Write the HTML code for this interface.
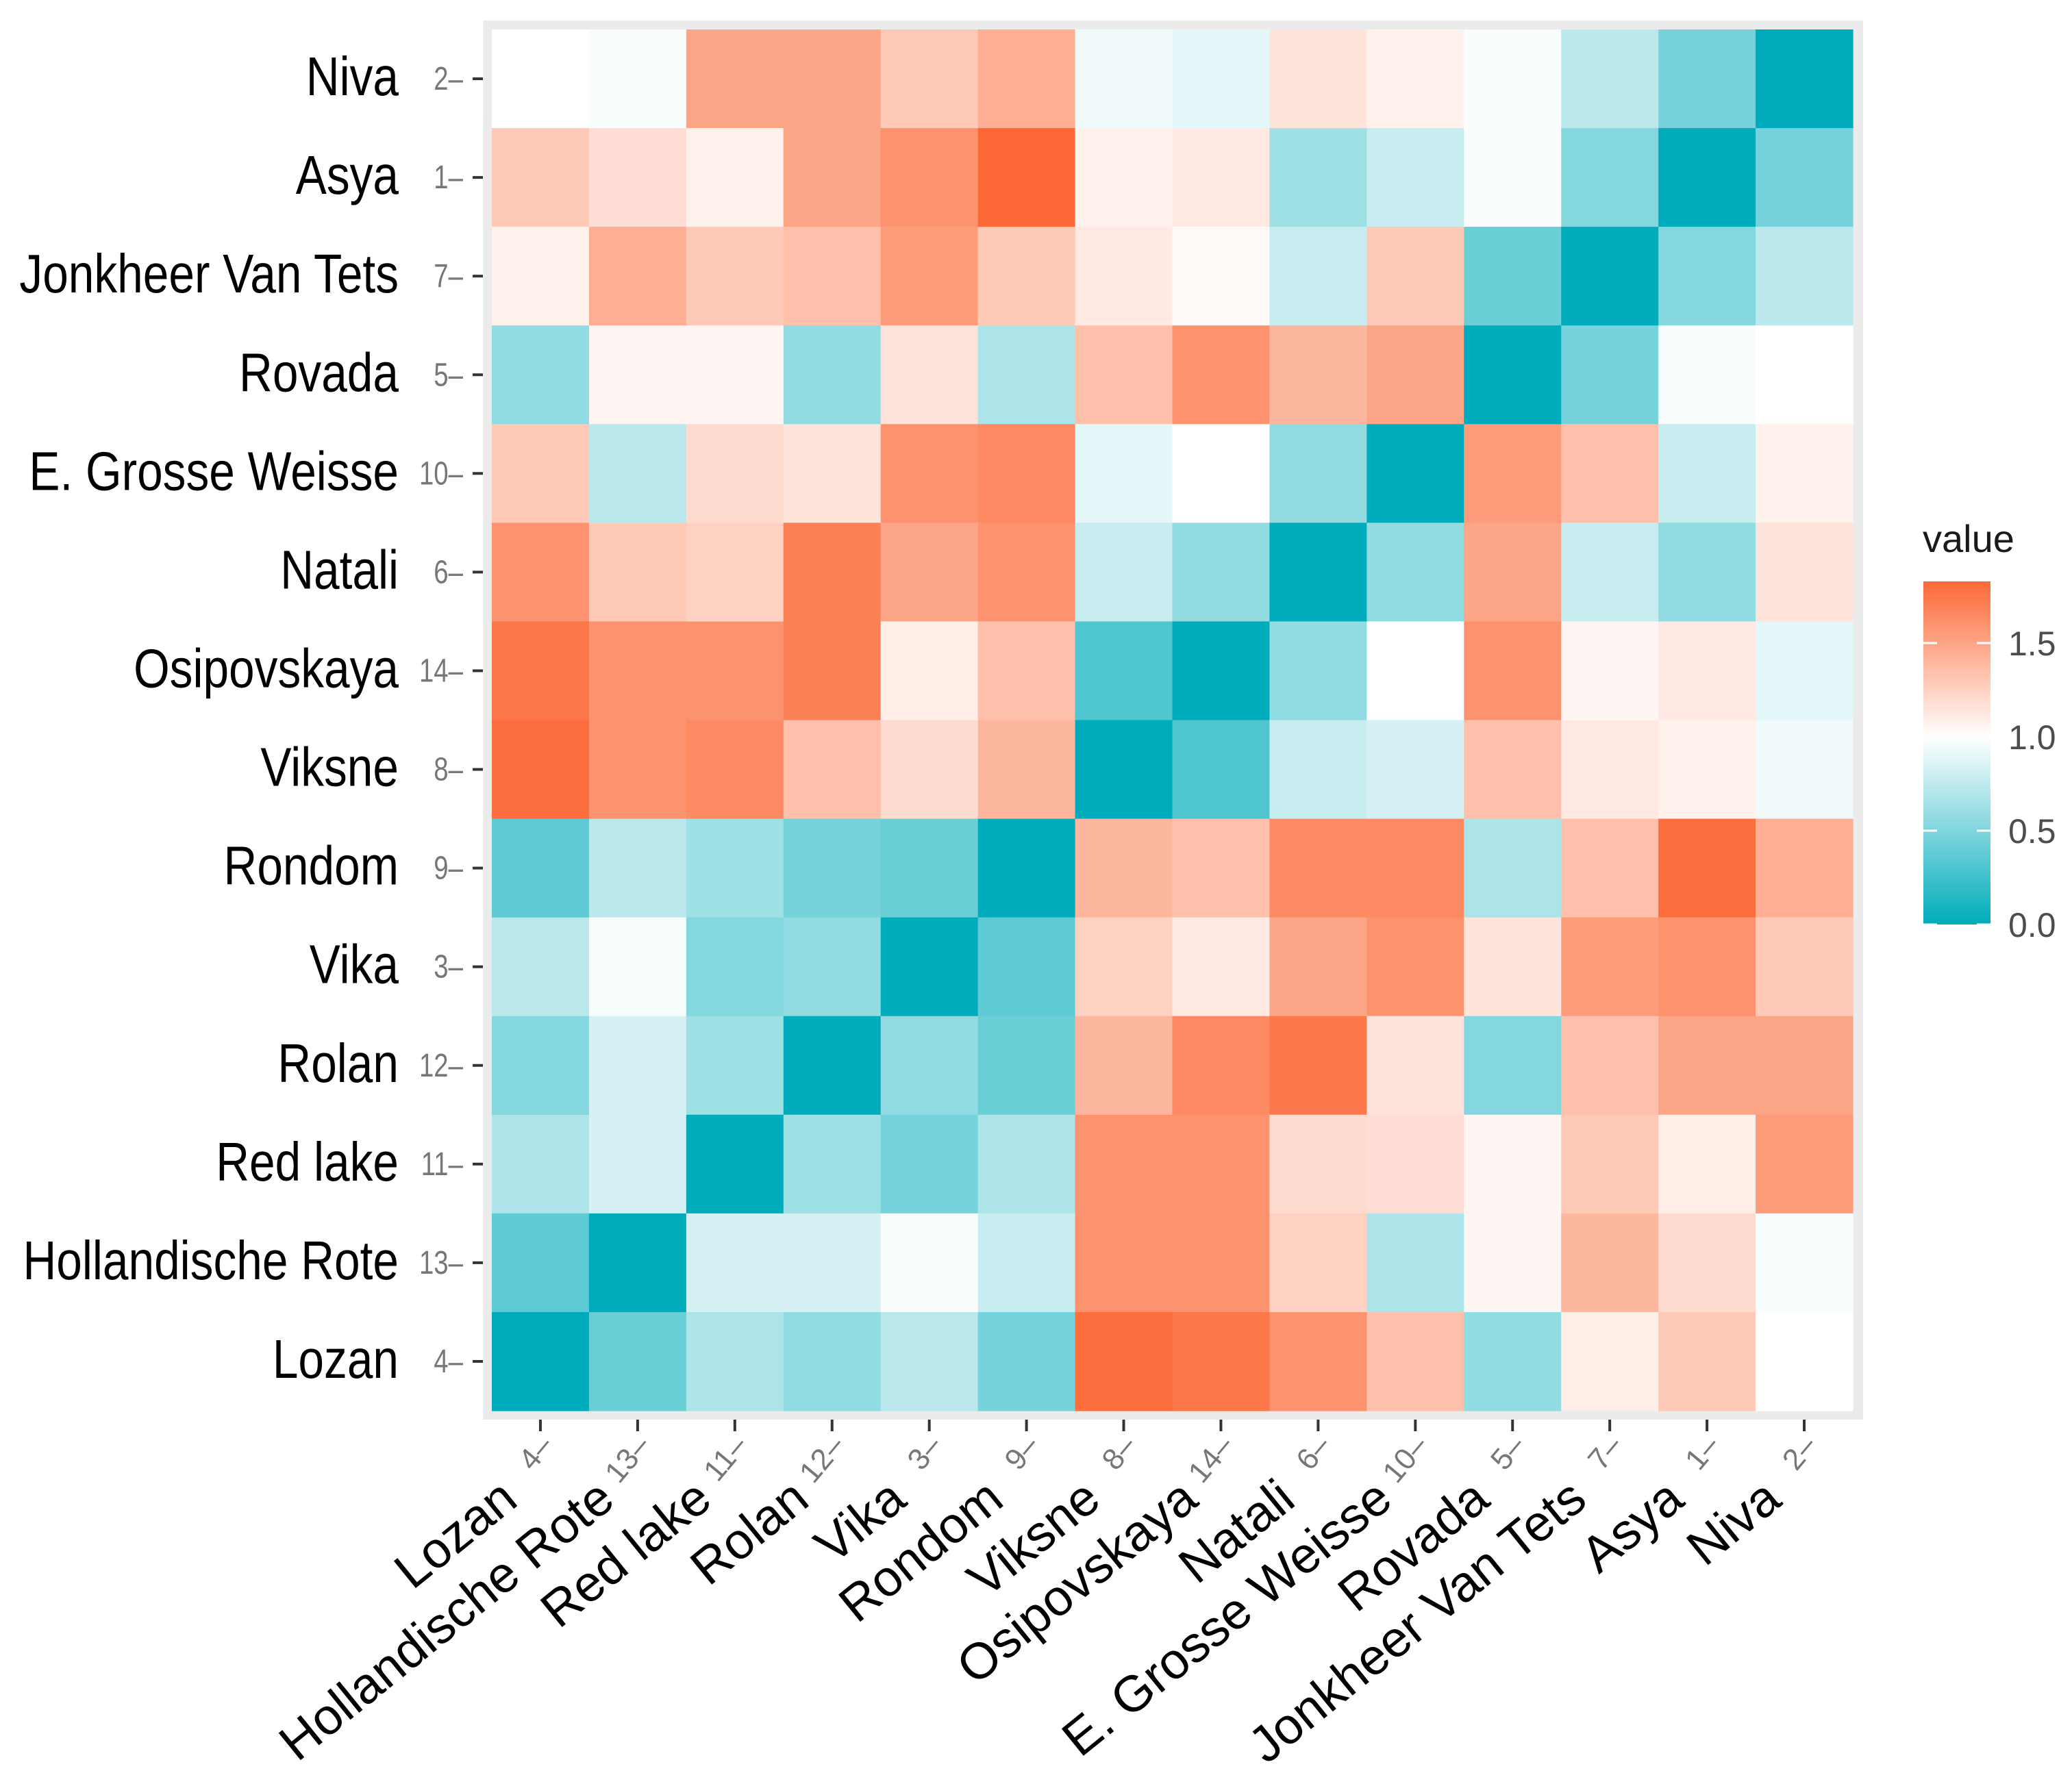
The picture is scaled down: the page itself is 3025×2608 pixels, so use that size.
<!DOCTYPE html>
<html><head><meta charset="utf-8"><style>
html,body{margin:0;padding:0;background:#fff;}
svg{display:block;font-family:"Liberation Sans",Arial,sans-serif;}
</style></head><body>
<svg id="chart" width="3025" height="2608" viewBox="0 0 3025 2608" xmlns="http://www.w3.org/2000/svg">
<defs>
<linearGradient id="lg" x1="0" y1="1" x2="0" y2="0">
<stop offset="0" stop-color="rgb(0,172,187)"/>
<stop offset="0.546" stop-color="#ffffff"/>
<stop offset="1" stop-color="rgb(252,105,55)"/>
</linearGradient>
</defs>
<rect x="705" y="30" width="2015" height="2043" fill="#EBEBEB"/>
<g id="tiles"></g>
<g id="yaxis"></g>
<g id="xaxis"></g>
<g>
<text x="2807" y="806" font-size="56" fill="#1a1a1a">value</text>
<rect x="2808" y="849" width="98" height="501" fill="url(#lg)"/>
<g id="legend-ticks"></g>
</g>
</svg>
<script>
const rowNames = ["Niva","Asya","Jonkheer Van Tets","Rovada","E. Grosse Weisse","Natali","Osipovskaya","Viksne","Rondom","Vika","Rolan","Red lake","Hollandische Rote","Lozan"];
const rowCodes = ["2","1","7","5","10","6","14","8","9","3","12","11","13","4"];
const colNames = ["Lozan","Hollandische Rote","Red lake","Rolan","Vika","Rondom","Viksne","Osipovskaya","Natali","E. Grosse Weisse","Rovada","Jonkheer Van Tets","Asya","Niva"];
const colCodes = ["4","13","11","12","3","9","8","14","6","10","5","7","1","2"];
const values = [
[1.0,0.97,1.5,1.5,1.3,1.45,0.95,0.9,1.15,1.08,0.98,0.75,0.5,0],
[1.3,1.18,1.08,1.5,1.6,1.85,1.08,1.12,0.65,0.8,0.98,0.55,0,0.5],
[1.08,1.45,1.3,1.35,1.55,1.3,1.12,1.03,0.8,1.3,0.45,0,0.55,0.75],
[0.6,1.05,1.05,0.6,1.15,0.7,1.35,1.6,1.4,1.5,0,0.5,0.97,1.0],
[1.3,0.75,1.2,1.15,1.6,1.65,0.9,1.0,0.6,0,1.55,1.35,0.8,1.08],
[1.6,1.3,1.25,1.7,1.5,1.6,0.8,0.6,0,0.6,1.5,0.8,0.6,1.15],
[1.75,1.6,1.6,1.7,1.1,1.35,0.35,0,0.6,1.0,1.6,1.05,1.12,0.9],
[1.8,1.6,1.65,1.35,1.2,1.4,0,0.35,0.8,0.85,1.35,1.12,1.08,0.95],
[0.4,0.75,0.65,0.5,0.45,0,1.4,1.35,1.65,1.65,0.7,1.35,1.8,1.45],
[0.75,0.97,0.55,0.6,0,0.4,1.25,1.12,1.5,1.6,1.15,1.55,1.6,1.3],
[0.55,0.85,0.65,0,0.6,0.45,1.4,1.65,1.75,1.15,0.55,1.35,1.5,1.5],
[0.7,0.85,0,0.65,0.5,0.7,1.6,1.6,1.2,1.18,1.05,1.3,1.1,1.55],
[0.4,0,0.85,0.85,0.98,0.8,1.6,1.6,1.25,0.7,1.05,1.4,1.2,0.97],
[0,0.45,0.7,0.6,0.75,0.5,1.8,1.75,1.6,1.35,0.6,1.1,1.3,1.0]
];
const legendTicks = [0,0.5,1,1.5];

const NS="http://www.w3.org/2000/svg";
const X0=718,X1=2705,Y0=43,Y1=2060;
const cw=(X1-X0)/colNames.length, rh=(Y1-Y0)/rowNames.length;
function xPos(i){return X0+i*cw;}
function yPos(j){return Y0+j*rh;}
function colorOf(v){
  const lo=[0,172,187],mid=[255,255,255],hi=[252,105,55];
  let a,b,t;
  if(v<1){a=lo;b=mid;t=Math.pow(Math.max(0,v),1.1);}else{a=mid;b=hi;t=Math.min(1,(v-1)/0.83);}
  return "rgb("+a.map((c,k)=>Math.round(c+(b[k]-c)*t)).join(",")+")";
}
function legY(v){return 1350-v*274;}
function mk(tag,attrs,parent){const e=document.createElementNS(NS,tag);for(const k in attrs)e.setAttribute(k,attrs[k]);parent.appendChild(e);return e;}

const tiles=document.getElementById("tiles");
values.forEach((row,j)=>row.forEach((v,i)=>{
  const r=mk("rect",{x:xPos(i),y:yPos(j),width:cw+0.6,height:rh+0.6,fill:colorOf(v)},tiles);
  
  
}));

const ya=document.getElementById("yaxis");
rowNames.forEach((n,j)=>{
  const yc=yPos(j)+rh/2;
  const tk=mk("line",{x1:690,x2:705,y1:yc,y2:yc,stroke:"#333","stroke-width":4},ya);
  
  
  const g=mk("g",{transform:"translate(582,"+(yc+24)+") scale(0.845,1)"},ya);
  const t=mk("text",{x:0,y:0,"text-anchor":"end","font-size":80,fill:"#000"},g);
  
  
  t.textContent=n;
  const gc=mk("g",{transform:"translate(676,"+(yc+16)+") scale(0.8,1)"},ya);
  const c=mk("text",{x:0,y:0,"text-anchor":"end","font-size":48,fill:"#777"},gc);
  
  
  c.textContent=rowCodes[j]+"–";
});

const xa=document.getElementById("xaxis");
colNames.forEach((n,i)=>{
  const xc=xPos(i)+cw/2;
  const tk=mk("line",{x1:xc,x2:xc,y1:2073,y2:2090,stroke:"#333","stroke-width":4},xa);
  
  
  const gc=mk("g",{transform:"translate("+(xc+20)+",2112) rotate(-50)"},xa);
  const c=mk("text",{x:0,y:0,"text-anchor":"end","font-size":44,fill:"#777"},gc);
  
  
  c.textContent=colCodes[i]+"–";
  const g=mk("g",{transform:"translate("+(xc-30)+",2196) rotate(-39)"},xa);
  const t=mk("text",{x:0,y:0,"text-anchor":"end","font-size":74,fill:"#000"},g);
  
  
  t.textContent=n;
});

const lt=document.getElementById("legend-ticks");
legendTicks.forEach(v=>{
  const y=legY(v);
  const a=mk("line",{x1:2808,x2:2828,y1:y,y2:y,stroke:"#fff","stroke-width":3},lt);
  
  
  const b=mk("line",{x1:2886,x2:2906,y1:y,y2:y,stroke:"#fff","stroke-width":3},lt);
  
  
  const t=mk("text",{x:2932,y:y+18,"font-size":50,fill:"#4d4d4d"},lt);
  
  
  t.textContent=v.toFixed(1);
});
</script>
</body></html>
